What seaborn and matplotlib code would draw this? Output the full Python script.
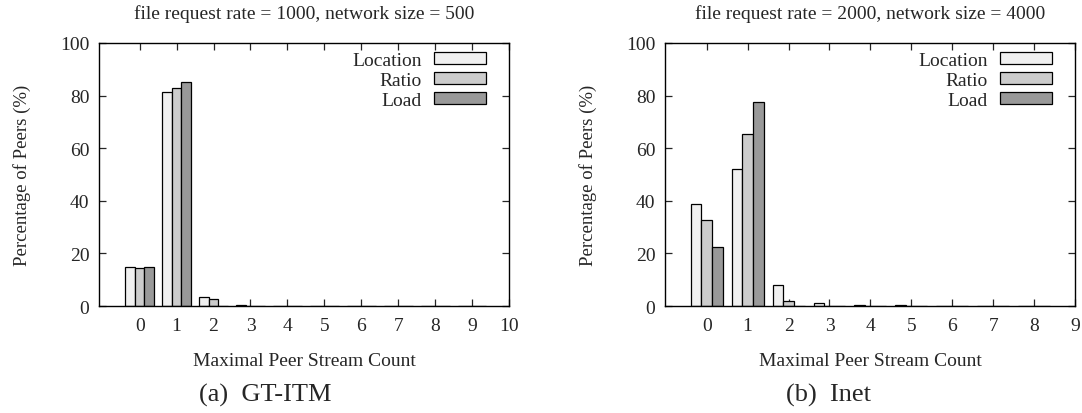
import pandas as pd
import matplotlib
matplotlib.use('Agg')
import matplotlib.pyplot as plt
import seaborn as sns

# data
schemes = ['Location', 'Ratio', 'Load']
colors = ['#f0f0f0', '#cccccc', '#999999']

counts_a = [0, 1, 2, 3, 4, 5, 6, 7, 8, 9]
location_a = [14.7, 81.5, 3.5, 0.2, 0.1, 0.1, 0.1, 0.1, 0.0, 0.0]
ratio_a = [14.3, 82.8, 2.8, 0.0, 0.0, 0.0, 0.0, 0.0, 0.0, 0.0]
load_a = [14.9, 85.0, 0.0, 0.0, 0.0, 0.0, 0.0, 0.0, 0.0, 0.0]
ticks_a = list(range(0, 11))

counts_b = [0, 1, 2, 3, 4, 5, 6, 7, 8]
location_b = [38.8, 52.0, 7.9, 1.1, 0.3, 0.2, 0.1, 0.1, 0.1]
ratio_b = [32.6, 65.5, 1.9, 0.1, 0.0, 0.0, 0.0, 0.0, 0.0]
load_b = [22.4, 77.6, 0.0, 0.0, 0.0, 0.0, 0.0, 0.0, 0.0]
ticks_b = list(range(0, 10))

titles = ['file request rate = 1000, network size = 500',
          'file request rate = 2000, network size = 4000']
captions = ['(a)  GT-ITM', '(b)  Inet']


def make_frame(counts, loc, rat, lod):
    rows = []
    for name, vals in zip(schemes, [loc, rat, lod]):
        for c, v in zip(counts, vals):
            rows.append({'count': c, 'scheme': name, 'pct': v})
    return pd.DataFrame(rows)


def draw_panel(ax, df, counts, ticks, xlim, title):
    sns.barplot(data=df, x='count', y='pct', hue='scheme', order=counts,
                hue_order=schemes, palette=colors, edgecolor='black',
                linewidth=0.9, width=0.78, gap=0, ax=ax)
    ax.set_xlim(*xlim)
    ax.set_ylim(0, 100)
    ax.set_xticks(ticks)
    ax.set_xticklabels([str(t) for t in ticks])
    ax.set_yticks([0, 20, 40, 60, 80, 100])
    ax.tick_params(direction='in', top=True, right=True, length=5,
                   width=0.9, labelsize=14, pad=7)
    ax.tick_params(axis='x', pad=8)
    for s in ax.spines.values():
        s.set_visible(True)
        s.set_linewidth(1.0)
        s.set_color('black')
    ax.set_xlabel('Maximal Peer Stream Count', fontsize=14, labelpad=13)
    ax.set_ylabel('Percentage of Peers (%)', fontsize=13.5, labelpad=21)
    ax.set_title(title, fontsize=14, pad=18)
    ax.legend(loc='upper right', bbox_to_anchor=(0.944, 0.965),
              frameon=False, markerfirst=False, fontsize=14,
              handlelength=2.7, handleheight=0.55, labelspacing=0.15,
              borderaxespad=0, borderpad=0, handletextpad=0.6)


sns.set_style('ticks')
plt.rcParams['font.family'] = ['Liberation Serif', 'DejaVu Serif']

fig = plt.figure(figsize=(10.82, 4.14), dpi=100)
W, H = 1082, 414
ax1 = fig.add_axes([99 / W, (H - 307) / H, 410 / W, 263 / H])
ax2 = fig.add_axes([665 / W, (H - 307) / H, 410 / W, 263 / H])

draw_panel(ax1, make_frame(counts_a, location_a, ratio_a, load_a),
           counts_a, ticks_a, (-1.1, 10), titles[0])
draw_panel(ax2, make_frame(counts_b, location_b, ratio_b, load_b),
           counts_b, ticks_b, (-1.02, 9), titles[1])

fig.text(265 / W, 1 - 395 / H, captions[0], ha='center', va='center', fontsize=19)
fig.text(829 / W, 1 - 395 / H, captions[1], ha='center', va='center', fontsize=19)

fig.savefig('out.png', dpi=100)
